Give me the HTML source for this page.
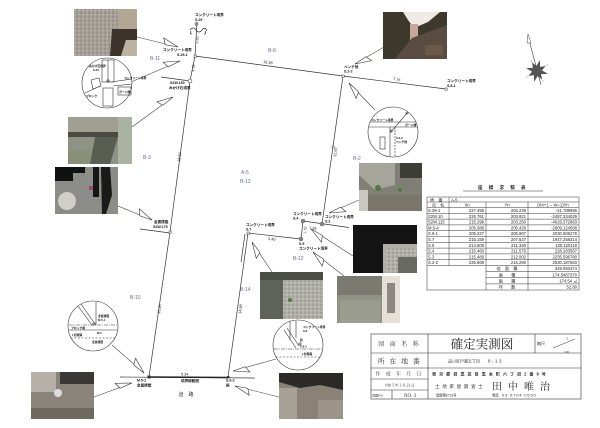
<!DOCTYPE html>
<html><head><meta charset="utf-8">
<style>
html,body{margin:0;padding:0;background:#fff;}
svg{display:block;}
text{font-family:"Liberation Sans","Noto Sans CJK JP",sans-serif;}
.s{font-family:"Liberation Serif","Noto Serif CJK JP","Noto Serif CJK SC",serif;}
.b{fill:#6c6c98;font-size:5px;}
.p{font-size:3.6px;font-weight:bold;fill:#111;}
.d{font-size:3.8px;fill:#222;}
.t{font-size:4.2px;fill:#222;}
.tr{font-size:4.2px;fill:#222;text-anchor:end;}
.tc{font-size:4.2px;fill:#222;text-anchor:middle;}
</style></head><body>
<svg width="600" height="428" viewBox="0 0 600 428" xmlns="http://www.w3.org/2000/svg">
<defs>
<marker id="h" markerWidth="20" markerHeight="20" viewBox="-20 -10 20 20" refX="0" refY="0" orient="auto" markerUnits="userSpaceOnUse"><path d="M0,0 L-16,-5.5 L-13,0.8 Z" fill="#fff" stroke="#333" stroke-width="0.6"/></marker>
<pattern id="gr" width="4" height="4" patternUnits="userSpaceOnUse">
<rect width="4" height="4" fill="#a6a29a"/>
<circle cx="1" cy="1" r="0.7" fill="#7e7a72"/>
<circle cx="3" cy="2.5" r="0.6" fill="#c8c4bc"/>
<circle cx="1.5" cy="3.3" r="0.5" fill="#8a867e"/>
</pattern>
<pattern id="gr2" width="4" height="4" patternUnits="userSpaceOnUse">
<rect width="4" height="4" fill="#b0b0a8"/>
<circle cx="1" cy="1" r="0.7" fill="#8a8a82"/>
<circle cx="3" cy="2.6" r="0.6" fill="#d0d0c8"/>
</pattern>
</defs>
<rect width="600" height="428" fill="#fff"/>

<!-- boundary lines -->
<g stroke="#333" stroke-width="0.7" fill="none">
<polyline points="197,22 195,56 190,81 170,232 149,377"/>
<polyline points="195,56 343,76 446,89"/>
<line x1="343" y1="76" x2="322" y2="224"/>
<line x1="303" y1="221" x2="349" y2="227.5"/>
<line x1="303" y1="221" x2="301" y2="239"/>
<line x1="301" y1="239" x2="248" y2="233"/>
<line x1="248" y1="233" x2="228" y2="377"/>
<line x1="245" y1="234" x2="241" y2="262"/>
<line x1="120" y1="377" x2="255" y2="378"/>
<line x1="161" y1="77" x2="190" y2="81"/>
<line x1="140" y1="229" x2="170" y2="233"/>
<path d="M190,30 q3,-4 6,0 q3,4 6,0 q3,-4 5,1 M191,31 q-2,3 1,3 M205,31 q2,3 -1,3"/>
</g>
<line x1="149" y1="377" x2="228" y2="377.5" stroke="#222" stroke-width="1.5"/>

<!-- point markers -->
<g stroke="#333" stroke-width="0.5" fill="#fff">
<circle cx="196.5" cy="24" r="1.6"/>
<path d="M195.4,22.9 l2.2,2.2 M197.6,22.9 l-2.2,2.2"/>
<rect x="194" y="55" width="2.2" height="2.2"/>
<circle cx="190" cy="81" r="2"/>
<rect x="169" y="231" width="2.2" height="2.2"/>
<rect x="342" y="75" width="2.2" height="2.2"/>
<rect x="445" y="88" width="2.2" height="2.2"/>
<rect x="332" y="146" width="2" height="2"/>
<rect x="247" y="232" width="2.2" height="2.2"/>
</g>
<g fill="#888" stroke="#555" stroke-width="0.4">
<circle cx="322" cy="224" r="2"/>
<circle cx="303" cy="221" r="2"/>
<circle cx="301" cy="239" r="2"/>
</g>
<rect x="147.5" y="375.5" width="3" height="3" fill="#333"/>
<rect x="227" y="376" width="2.4" height="2.4" fill="#333"/>

<!-- leader lines -->
<g stroke="#444" stroke-width="0.6" fill="none" marker-end="url(#h)">
<line x1="137" y1="37" x2="178" y2="47"/>
<line x1="131" y1="82" x2="180" y2="61"/>
<line x1="132" y1="127" x2="173" y2="97"/>
<line x1="118" y1="206" x2="152" y2="220"/>
<line x1="384" y1="47" x2="355" y2="64"/>
<line x1="375" y1="110" x2="349" y2="83"/>
<line x1="359" y1="200" x2="329" y2="213"/>
<line x1="353" y1="256" x2="311" y2="229"/>
<line x1="272" y1="272" x2="252" y2="242"/>
<line x1="344" y1="276" x2="313" y2="252"/>
<line x1="112" y1="345" x2="144" y2="373"/>
<line x1="94" y1="397" x2="132" y2="383"/>
<line x1="276" y1="359" x2="233" y2="371"/>
<line x1="279" y1="397" x2="235" y2="386"/>
</g>

<!-- photos -->
<!-- P1 -->
<g>
<rect x="74" y="9" width="63" height="47" fill="url(#gr)"/>
<polygon points="117,9 137,9 137,29 119,29" fill="#b3a793"/>
<polygon points="112,29 137,29 137,40 126,40 121,56 110,56" fill="#3c342c"/>
<polygon points="126,40 137,40 137,56 121,56" fill="#bdb1a0"/>
</g>
<!-- P2 -->
<g>
<rect x="68" y="117" width="64" height="47" fill="#8f9284"/>
<rect x="68" y="117" width="50" height="15" fill="#a19f92"/>
<polygon points="68,132 118,132 118,137 68,137" fill="#4a4a42"/>
<polygon points="95,137 118,137 110,164 90,164" fill="#5a5e52"/>
<rect x="118" y="117" width="14" height="47" fill="#a9b3a0"/>
<rect x="68" y="150" width="22" height="14" fill="#8a9078"/>
</g>
<!-- P3 -->
<g>
<rect x="55" y="167" width="63" height="47" fill="#8c8c88"/>
<rect x="55" y="167" width="30" height="6" fill="#111"/>
<rect x="55" y="167" width="18" height="14" fill="#111"/>
<rect x="93" y="167" width="6" height="30" fill="#151515"/>
<polygon points="101,167 110,167 112,195 106,214 102,214" fill="#1a1a1a"/>
<circle cx="67" cy="201" r="9" fill="#cfcfc8"/>
<rect x="89" y="186" width="4" height="4" fill="#c04040"/>
<rect x="90" y="187" width="2" height="2" fill="#4060c0"/>
</g>
<!-- P4 -->
<g>
<rect x="383" y="12" width="64" height="47" fill="#3c382c"/>
<polygon points="403,12 440,12 428,22 414,28 408,20" fill="#eeebe6"/>
<polygon points="410,24 418,24 418,40 410,40" fill="#c8a898"/>
<polygon points="412,38 447,25 447,59 395,59" fill="#5a4c40"/>
<rect x="425" y="45" width="18" height="10" fill="#6a5848"/>
</g>
<!-- P5 -->
<g>
<rect x="359" y="163" width="63" height="48" fill="#7f7f76"/>
<polygon points="359,163 395,163 395,185 375,190 359,175" fill="#a5a59b"/>
<rect x="400" y="163" width="22" height="15" fill="#3d3d38"/>
<rect x="359" y="190" width="9" height="21" fill="#c8c8c0"/>
<rect x="368" y="195" width="54" height="16" fill="#7a766a"/>
<circle cx="378" cy="188" r="3" fill="#4f7a3f"/>
<circle cx="400" cy="190" r="2" fill="#4f7a3f"/>
</g>
<!-- P6 -->
<g>
<rect x="353" y="225" width="64" height="48" fill="#141414"/>
<rect x="383" y="244" width="34" height="29" fill="#b0b0a8"/>
<rect x="386" y="247" width="31" height="26" fill="url(#gr2)"/>
<rect x="398" y="257" width="19" height="16" fill="#6a6a64"/>
</g>
<!-- P7 -->
<g>
<rect x="260" y="272" width="63" height="47" fill="url(#gr2)"/>
<rect x="260" y="272" width="23" height="47" fill="#5e625a"/>
<rect x="260" y="272" width="63" height="8" fill="#4a4c46"/>
<circle cx="290" cy="300" r="2" fill="#4f7a3f"/>
</g>
<!-- P8 -->
<g>
<rect x="337" y="276" width="63" height="47" fill="#8f9284"/>
<rect x="337" y="276" width="45" height="19" fill="#7a7a70"/>
<rect x="382" y="276" width="18" height="47" fill="#e4e0d8"/>
<rect x="387" y="283" width="8" height="30" fill="#8a8880"/>
<rect x="340" y="300" width="40" height="23" fill="#9a9c90"/>
</g>
<!-- P9 -->
<g>
<rect x="31" y="372" width="63" height="47" fill="#8a847a"/>
<rect x="31" y="372" width="25" height="20" fill="#b7b0a8"/>
<rect x="60" y="372" width="34" height="12" fill="#3a3835"/>
<circle cx="58" cy="393" r="4" fill="#ddd"/>
<rect x="31" y="408" width="63" height="11" fill="#6e6a60"/>
</g>
<!-- P10 -->
<g>
<rect x="279" y="373" width="64" height="46" fill="#8a8276"/>
<polygon points="279,373 343,373 343,390 320,385 300,388 279,382" fill="#2b2a28"/>
<rect x="279" y="388" width="18" height="31" fill="#a8a296"/>
<rect x="318" y="400" width="25" height="19" fill="#9c9488"/>
</g>

<!-- detail circles -->
<g stroke="#333" stroke-width="0.6" fill="none">
<circle cx="107" cy="83" r="25" fill="#fff"/>
<rect x="102" y="60" width="12" height="22"/>
<line x1="108" y1="60" x2="108" y2="82"/>
<rect x="103" y="88" width="10" height="18"/>
<rect x="118" y="87" width="13" height="8"/>
<polygon points="91,80 99,78 101,86 93,89"/>
<line x1="85" y1="93" x2="100" y2="86"/>
<line x1="111" y1="82" x2="132" y2="79"/>
<line x1="113" y1="86" x2="132" y2="84"/>
<circle cx="108" cy="81" r="1.2"/>

<circle cx="393" cy="132" r="25" fill="#fff"/>
<line x1="370" y1="122" x2="416" y2="122"/>
<line x1="369" y1="127" x2="417" y2="127"/>
<line x1="391" y1="132" x2="407" y2="113"/>
<circle cx="407" cy="113" r="1"/>
<line x1="390" y1="127" x2="390" y2="156"/>
<line x1="395" y1="127" x2="395" y2="157" stroke-dasharray="2,1"/>
<rect x="380" y="137" width="5" height="12"/>
<rect x="390" y="130" width="2" height="2"/>

<circle cx="93" cy="326" r="25" fill="#fff"/>
<line x1="69" y1="325" x2="117" y2="325" stroke-dasharray="4,1,1,1"/>
<line x1="69" y1="330" x2="117" y2="330"/>
<line x1="71" y1="338" x2="115" y2="338" stroke-dasharray="2,1.5"/>
<line x1="78" y1="306" x2="92" y2="325"/>
<line x1="81" y1="304" x2="95" y2="324"/>
<line x1="96" y1="302" x2="96" y2="325"/>
<rect x="93" y="323" width="2" height="2"/>

<circle cx="298" cy="345" r="25" fill="#fff"/>
<line x1="274" y1="349" x2="322" y2="349" stroke-dasharray="4,1,1,1"/>
<line x1="276" y1="357" x2="320" y2="357" stroke-dasharray="2,1.5"/>
<line x1="284" y1="330" x2="296" y2="348"/>
<line x1="287" y1="328" x2="299" y2="346"/>
<line x1="290" y1="321" x2="290" y2="340"/>
<line x1="296" y1="321" x2="296" y2="338"/>
<rect x="299" y="343" width="2" height="2"/>
</g>
<g class="p" style="font-size:2.8px">
<text x="89" y="67">みかげ石境界</text><text x="93" y="71">S.29</text>
<text x="86" y="97">ブロック</text>
<text x="119" y="93">ガード柵</text>
<text x="124" y="79">コンクリート境界</text>
<text x="371" y="121">コンクリート境界</text>
<text x="405" y="126">ガード柵</text>
<text x="396" y="139">S.2-2</text><text x="396" y="143">ベンチ他</text>
<text x="98" y="317">金属標識</text><text x="98" y="321">M.5-4</text>
<text x="71" y="329">ブロック塀</text>
<text x="72" y="336">L形側溝</text>
<text x="97" y="334">M.5</text><text x="92" y="343">金属標識</text>
<text x="303" y="328">コンクリート境界</text><text x="303" y="332">S.6</text>
<text x="300" y="341">鋲</text><text x="300" y="347.5">S.6-2</text>
<text x="302" y="355">L形側溝</text>
</g>

<!-- compass -->
<line x1="528" y1="36" x2="541" y2="85" stroke="#444" stroke-width="0.6"/>
<polygon points="528,34 531,43 527,43" fill="#fff" stroke="#444" stroke-width="0.5"/>
<g transform="translate(537,71) rotate(15)">
<path d="M10.5,0 L4.4,1.8 L6.6,6.6 L1.8,4.4 L0,10.5 L-1.8,4.4 L-6.6,6.6 L-4.4,1.8 L-10.5,0 L-4.4,-1.8 L-6.6,-6.6 L-1.8,-4.4 L0,-10.5 L1.8,-4.4 L6.6,-6.6 L4.4,-1.8 Z" fill="#555" stroke="#444" stroke-width="0.4"/>
<g stroke="#777" stroke-width="0.4"><line x1="7" y1="7" x2="9" y2="9"/><line x1="-7" y1="7" x2="-9" y2="9"/><line x1="7" y1="-7" x2="9" y2="-9"/><line x1="-7" y1="-7" x2="-9" y2="-9"/></g>
</g>

<!-- block labels -->
<g class="b">
<text x="150" y="60">B-11</text>
<text x="268" y="52">B-8</text>
<text x="143" y="159">B-3</text>
<text x="241" y="174">A-5</text>
<text x="240" y="183">B-13</text>
<text x="353" y="160">B-2</text>
<text x="293" y="260">B-12</text>
<text x="240" y="291">B-14</text>
<text x="130" y="299">B-10</text>
</g>

<!-- point labels -->
<g class="p">
<text x="195" y="16">コンクリート境界</text><text x="195" y="21">S.29</text>
<text x="163" y="51">コンクリート境界</text><text x="177" y="56">S.29-1</text>
<text x="170" y="84">S2W.150</text><text x="169" y="89">みかげ石境界</text>
<text x="154" y="223">金属標識</text><text x="153" y="228">S2W.175</text>
<text x="344" y="68">ベンチ他</text><text x="344" y="72.5">S.2-2</text>
<text x="447" y="82">コンクリート境界</text><text x="447" y="87">S.8-1</text>
<text x="293" y="215">コンクリート境界</text><text x="293" y="219.5">S.4</text>
<text x="325" y="218">コンクリート境界</text><text x="325" y="222.5">S.3</text>
<text x="246" y="226">コンクリート境界</text><text x="246" y="230.5">S.7</text>
<text x="299" y="245">S.5</text><text x="299" y="249.5">コンクリート境界</text>
<text x="137" y="381.5">M.5-2</text><text x="137" y="386.5">金属標識</text>
<text x="226" y="381.5">S.6-2</text><text x="226" y="386.5">鋲</text>
<text x="181" y="382">境界線範囲</text>
</g>
<text x="186" y="396" style="font-size:5px;fill:#333" text-anchor="middle">道　路</text>

<!-- distance labels -->
<g class="d">
<text x="263" y="63" transform="rotate(7.7 263 63)">18.38</text>
<text x="393" y="80" transform="rotate(7 393 80)">7.14</text>
<text x="198" y="44" transform="rotate(-84 198 44)">1.25</text>
<text x="194" y="72" transform="rotate(-82 194 72)">3.78</text>
<text x="180" y="162" transform="rotate(-82 180 162)">18.60</text>
<text x="160" y="314" transform="rotate(-82 160 314)">15.26</text>
<text x="336" y="157" transform="rotate(-82 336 157)">12.97</text>
<text x="309" y="229" transform="rotate(7 309 229)">1.38</text>
<text x="306" y="234" transform="rotate(-84 306 234)">1.75</text>
<text x="268" y="240" transform="rotate(6 268 240)">3.40</text>
<text x="241" y="314" transform="rotate(-82 241 314)">14.88</text>
<text x="181" y="375.5">5.34</text>
</g>

<!-- coordinate table -->
<text x="503" y="189" class="tc" style="font-size:4.5px;letter-spacing:2.5px;font-weight:bold">座 標 求 積 表</text>
<line x1="463" y1="191" x2="543" y2="191" stroke="#333" stroke-width="0.6"/>
<g stroke="#333" stroke-width="0.5" fill="none">
<rect x="427" y="197" width="152" height="93"/>
<line x1="427" y1="202" x2="579" y2="202"/>
<line x1="427" y1="207.5" x2="579" y2="207.5"/>
<line x1="427" y1="213.3" x2="579" y2="213.3"/>
<line x1="427" y1="219.1" x2="579" y2="219.1"/>
<line x1="427" y1="224.9" x2="579" y2="224.9"/>
<line x1="427" y1="230.7" x2="579" y2="230.7"/>
<line x1="427" y1="236.5" x2="579" y2="236.5"/>
<line x1="427" y1="242.3" x2="579" y2="242.3"/>
<line x1="427" y1="248.1" x2="579" y2="248.1"/>
<line x1="427" y1="253.9" x2="579" y2="253.9"/>
<line x1="427" y1="259.7" x2="579" y2="259.7"/>
<line x1="427" y1="265.5" x2="579" y2="265.5"/>
<line x1="486" y1="271.6" x2="579" y2="271.6"/>
<line x1="486" y1="277.75" x2="579" y2="277.75"/>
<line x1="486" y1="283.9" x2="579" y2="283.9"/>
<line x1="449" y1="197" x2="449" y2="265.5"/>
<line x1="486" y1="202" x2="486" y2="290"/>
<line x1="528" y1="202" x2="528" y2="290"/>
</g>
<text x="430" y="201.3" class="t">地　番</text><text x="451" y="201.3" class="t">A-5</text>
<text x="438" y="206.6" class="tc">点　名</text><text x="467" y="206.6" class="tc">Xn</text><text x="507" y="206.6" class="tc">Yn</text><text x="553" y="206.6" class="tc">(Xn+1 − Xn-1)Yn</text>
<g class="t">
<text x="428" y="212">S.29-1</text><text x="428" y="217.8">S2W.10</text><text x="428" y="223.6">S2W.115</text><text x="428" y="229.4">M.5-4</text><text x="428" y="235.2">S.6-1</text><text x="428" y="241">S.7</text><text x="428" y="246.8">S.5</text><text x="428" y="252.6">S.4</text><text x="428" y="258.4">S.3</text><text x="428" y="264.2">S.2-2</text>
</g>
<g class="tr">
<text x="484" y="212">227.458</text><text x="484" y="217.8">225.761</text><text x="484" y="223.6">215.299</text><text x="484" y="229.4">205.388</text><text x="484" y="235.2">205.227</text><text x="484" y="241">215.159</text><text x="484" y="246.8">214.609</text><text x="484" y="252.6">215.460</text><text x="484" y="258.4">215.489</text><text x="484" y="264.2">225.869</text>
<text x="526" y="212">204.239</text><text x="526" y="217.8">203.921</text><text x="526" y="223.6">203.250</text><text x="526" y="229.4">205.426</text><text x="526" y="235.2">205.907</text><text x="526" y="241">207.627</text><text x="526" y="246.8">211.340</text><text x="526" y="252.6">211.575</text><text x="526" y="258.4">212.002</text><text x="526" y="264.2">216.290</text>
<text x="577" y="212">-21.788956</text><text x="577" y="217.8">-2487.334029</text><text x="577" y="223.6">-4026.372883</text><text x="577" y="229.4">-2609.124568</text><text x="577" y="235.2">2030.506278</text><text x="577" y="241">1947.258314</text><text x="577" y="246.8">130.120118</text><text x="577" y="252.6">228.283567</text><text x="577" y="258.4">2235.596780</text><text x="577" y="264.2">2530.187583</text>
<text x="577" y="270.2">349.093474</text><text x="577" y="276.3">174.5467370</text><text x="572" y="282.5">174.54</text><text x="577" y="288.6">52.80</text>
</g>
<text x="577" y="282.5" class="tr" style="font-size:3.5px">㎡</text>
<g class="tc">
<text x="507" y="270.2">倍　面　積</text><text x="507" y="276.3">面　　積</text><text x="507" y="282.5">面　　積</text><text x="507" y="288.6">坪　　数</text>
</g>

<!-- title block -->
<g stroke="#333" stroke-width="0.6" fill="none">
<rect x="371" y="334" width="210" height="65"/>
<line x1="371" y1="353" x2="581" y2="353"/>
<line x1="371" y1="368" x2="581" y2="368"/>
<line x1="371" y1="379" x2="428" y2="379"/>
<line x1="371" y1="390" x2="428" y2="390"/>
<line x1="428" y1="334" x2="428" y2="399"/>
<line x1="535" y1="334" x2="535" y2="353"/>
<line x1="392" y1="390" x2="392" y2="399"/>
<line x1="553" y1="348" x2="575" y2="339" stroke-width="0.5"/>
</g>
<text x="399.5" y="346" class="s" text-anchor="middle" style="font-size:6px;fill:#333;letter-spacing:2px">図 面 名 称</text>
<text x="482" y="348.5" class="s" text-anchor="middle" style="font-size:12.5px;fill:#222">確定実測図</text>
<text x="537" y="345" style="font-size:4px;fill:#333">縮尺</text>
<text x="566" y="340" class="s" style="font-size:4px;fill:#333">1</text>
<text x="564" y="353" class="s" style="font-size:3.5px;fill:#333">100</text>
<text x="399.5" y="363.5" class="s" text-anchor="middle" style="font-size:7px;fill:#333;letter-spacing:1.5px">所 在 地 番</text>
<text x="448" y="362.5" style="font-size:4px;fill:#333">品川区戸越五丁目</text>
<text x="488" y="362.5" style="font-size:4.5px;fill:#333;letter-spacing:1.5px">8-13</text>
<text x="399.5" y="375.5" class="s" text-anchor="middle" style="font-size:5px;fill:#333;letter-spacing:2px">作 成 年 月 日</text>
<text x="399.5" y="386.5" class="s" text-anchor="middle" style="font-size:3.6px;fill:#333">令和 5 年 3 月 23 日</text>
<text x="372.5" y="396.5" style="font-size:3px;fill:#333">図面NO.</text>
<text x="410" y="397" class="s" text-anchor="middle" style="font-size:5px;fill:#333">NO. 3</text>
<text x="432" y="375.5" style="font-size:4.2px;fill:#333;letter-spacing:2.9px;font-weight:bold">東京都目黒区目黒本町六丁目2番8号</text>
<text x="435" y="388" style="font-size:4.6px;fill:#333;letter-spacing:2.6px">土地家屋調査士</text>
<text x="492" y="390" class="s" style="font-size:10px;fill:#222;letter-spacing:6px">田中唯治</text>
<text x="436" y="396.5" style="font-size:3.3px;fill:#333">登録第6715号</text>
<text x="492" y="396.5" style="font-size:3.3px;fill:#333">電話</text>
<text x="502" y="396.5" style="font-size:4px;fill:#333;letter-spacing:0.8px">03-5704-0530</text>
</svg>
</body></html>
